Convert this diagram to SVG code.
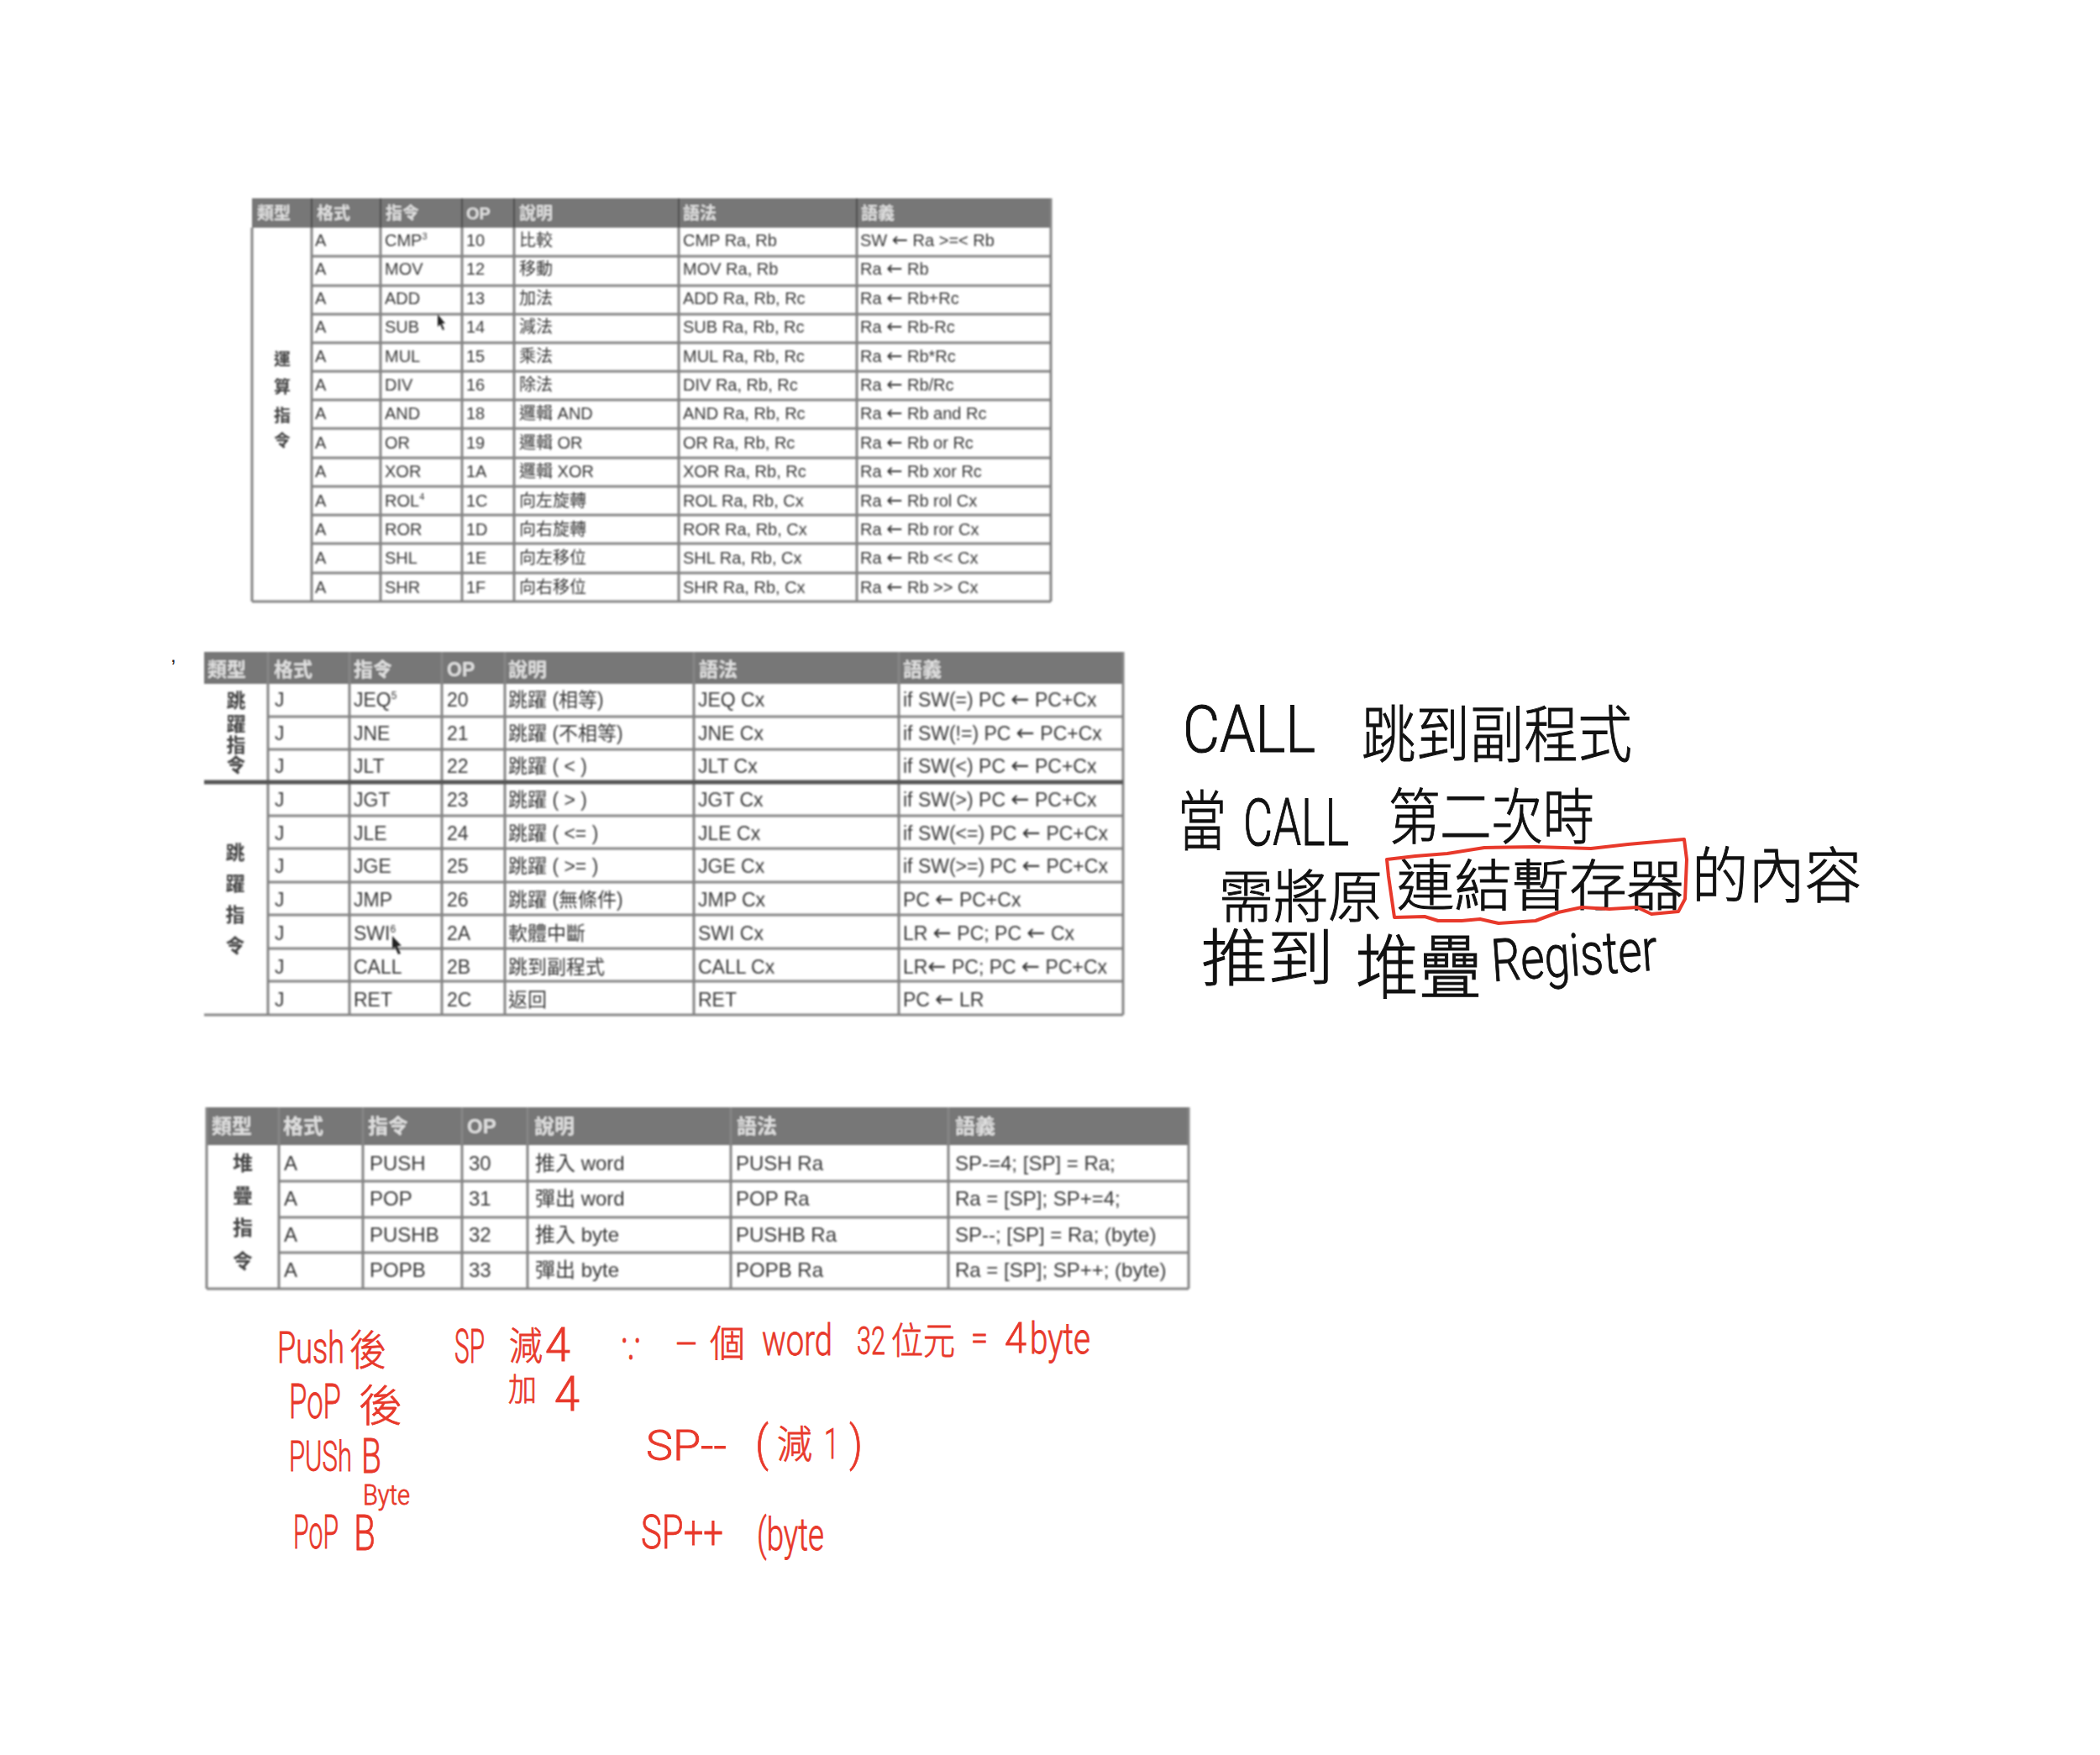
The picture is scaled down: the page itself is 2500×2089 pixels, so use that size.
<svg xmlns="http://www.w3.org/2000/svg" width="2500" height="2089" viewBox="0 0 2500 2089">
<defs>
<filter id="soft" x="-2%" y="-2%" width="104%" height="104%"><feGaussianBlur stdDeviation="0.85"/></filter>
</defs>
<style>
text{font-family:"Liberation Sans","Noto Sans CJK TC",sans-serif}
.tb{filter:url(#soft)}
.c{fill:#383838}
.h{fill:#e0e0e0;font-weight:700}
.hb{fill:#777}
.g{stroke:#858585;stroke-width:3;fill:none}
.d{stroke:#4f4f4f;stroke-width:2.5;fill:none}
.t1 text{font-size:20px}
.t2 text{font-size:23px}
.t3 text{font-size:24px}
.a{font-family:"DejaVu Sans",sans-serif;font-size:1.15em}
.v{text-anchor:middle;font-weight:700;fill:#444}
.hw{fill:#111;stroke:#111;stroke-width:1;font-family:"Noto Sans CJK TC",sans-serif;font-weight:300}
.la{font-family:Roboto,"Liberation Sans",sans-serif;font-weight:300}
.rd{fill:#e8392b;stroke:#e8392b;stroke-width:.8;font-family:"Noto Sans CJK TC",sans-serif;font-weight:300}
</style>
<rect width="2500" height="2089" fill="#fff"/>

<g id="table-arith" class="tb t1">
<rect class="hb" x="300" y="236" width="951" height="35"/>
<path class="g" d="M371 305H1251M371 340H1251M371 374H1251M371 408H1251M371 442H1251M371 476H1251M371 510H1251M371 545H1251M371 579H1251M371 613H1251M371 647H1251M371 682H1251"/>
<path class="g" d="M300 716H1251M300 271V716M371 236V716M453 236V716M550 236V716M612 236V716M808 236V716M1020 236V716M1251 236V716"/>
<path class="d" d="M371 236V271M453 236V271M550 236V271M612 236V271M808 236V271M1020 236V271"/>
<g class="h"><text x="306" y="261">類型</text><text x="377" y="261">格式</text><text x="459" y="261">指令</text><text x="555" y="261">OP</text><text x="618" y="261">說明</text><text x="813" y="261">語法</text><text x="1025" y="261">語義</text></g>
<g class="c">
<text x="375" y="293">A</text><text x="458" y="293">CMP<tspan font-size="11" dy="-8">3</tspan></text><text x="555" y="293">10</text><text x="618" y="293">比較</text><text x="813" y="293">CMP Ra, Rb</text><text x="1024" y="293">SW <tspan class="a">←</tspan> Ra &gt;=&lt; Rb</text>
<text x="375" y="327">A</text><text x="458" y="327">MOV</text><text x="555" y="327">12</text><text x="618" y="327">移動</text><text x="813" y="327">MOV Ra, Rb</text><text x="1024" y="327">Ra <tspan class="a">←</tspan> Rb</text>
<text x="375" y="362">A</text><text x="458" y="362">ADD</text><text x="555" y="362">13</text><text x="618" y="362">加法</text><text x="813" y="362">ADD Ra, Rb, Rc</text><text x="1024" y="362">Ra <tspan class="a">←</tspan> Rb+Rc</text>
<text x="375" y="396">A</text><text x="458" y="396">SUB</text><text x="555" y="396">14</text><text x="618" y="396">減法</text><text x="813" y="396">SUB Ra, Rb, Rc</text><text x="1024" y="396">Ra <tspan class="a">←</tspan> Rb-Rc</text>
<text x="375" y="431">A</text><text x="458" y="431">MUL</text><text x="555" y="431">15</text><text x="618" y="431">乘法</text><text x="813" y="431">MUL Ra, Rb, Rc</text><text x="1024" y="431">Ra <tspan class="a">←</tspan> Rb*Rc</text>
<text x="375" y="465">A</text><text x="458" y="465">DIV</text><text x="555" y="465">16</text><text x="618" y="465">除法</text><text x="813" y="465">DIV Ra, Rb, Rc</text><text x="1024" y="465">Ra <tspan class="a">←</tspan> Rb/Rc</text>
<text x="375" y="499">A</text><text x="458" y="499">AND</text><text x="555" y="499">18</text><text x="618" y="499">邏輯 AND</text><text x="813" y="499">AND Ra, Rb, Rc</text><text x="1024" y="499">Ra <tspan class="a">←</tspan> Rb and Rc</text>
<text x="375" y="534">A</text><text x="458" y="534">OR</text><text x="555" y="534">19</text><text x="618" y="534">邏輯 OR</text><text x="813" y="534">OR Ra, Rb, Rc</text><text x="1024" y="534">Ra <tspan class="a">←</tspan> Rb or Rc</text>
<text x="375" y="568">A</text><text x="458" y="568">XOR</text><text x="555" y="568">1A</text><text x="618" y="568">邏輯 XOR</text><text x="813" y="568">XOR Ra, Rb, Rc</text><text x="1024" y="568">Ra <tspan class="a">←</tspan> Rb xor Rc</text>
<text x="375" y="603">A</text><text x="458" y="603">ROL<tspan font-size="11" dy="-8">4</tspan></text><text x="555" y="603">1C</text><text x="618" y="603">向左旋轉</text><text x="813" y="603">ROL Ra, Rb, Cx</text><text x="1024" y="603">Ra <tspan class="a">←</tspan> Rb rol Cx</text>
<text x="375" y="637">A</text><text x="458" y="637">ROR</text><text x="555" y="637">1D</text><text x="618" y="637">向右旋轉</text><text x="813" y="637">ROR Ra, Rb, Cx</text><text x="1024" y="637">Ra <tspan class="a">←</tspan> Rb ror Cx</text>
<text x="375" y="671">A</text><text x="458" y="671">SHL</text><text x="555" y="671">1E</text><text x="618" y="671">向左移位</text><text x="813" y="671">SHL Ra, Rb, Cx</text><text x="1024" y="671">Ra <tspan class="a">←</tspan> Rb &lt;&lt; Cx</text>
<text x="375" y="706">A</text><text x="458" y="706">SHR</text><text x="555" y="706">1F</text><text x="618" y="706">向右移位</text><text x="813" y="706">SHR Ra, Rb, Cx</text><text x="1024" y="706">Ra <tspan class="a">←</tspan> Rb &gt;&gt; Cx</text>
</g>
<g class="v"><text x="336" y="435">運</text><text x="336" y="468">算</text><text x="336" y="502">指</text><text x="336" y="532">令</text></g>
<path fill="#222" d="M521 374l0 15 3-3 3 7 2-1-3-7 4 0z"/>
</g>

<text x="203" y="788" font-size="24" fill="#222">,</text>

<g id="table-jump" class="tb t2">
<rect class="hb" x="243" y="776" width="1094" height="38"/>
<path class="g" d="M319 853H1337M319 892H1337M319 971H1337M319 1010H1337M319 1050H1337M319 1089H1337M319 1129H1337M319 1168H1337M243 1208H1337"/>
<path class="g" d="M319 776V1208M416 776V1208M526 776V1208M601 776V1208M826 776V1208M1070 776V1208M1337 776V1208"/>
<path stroke="#555" stroke-width="5" d="M243 931H1337"/>
<g class="h"><text x="247" y="805">類型</text><text x="326" y="805">格式</text><text x="421" y="805">指令</text><text x="532" y="805">OP</text><text x="605" y="805">說明</text><text x="832" y="805">語法</text><text x="1075" y="805">語義</text></g>
<g class="c">
<text x="327" y="841">J</text><text x="421" y="841">JEQ<tspan font-size="12" dy="-9">5</tspan></text><text x="532" y="841">20</text><text x="605" y="841">跳躍 (相等)</text><text x="831" y="841">JEQ Cx</text><text x="1075" y="841">if SW(=) PC <tspan class="a">←</tspan> PC+Cx</text>
<text x="327" y="881">J</text><text x="421" y="881">JNE</text><text x="532" y="881">21</text><text x="605" y="881">跳躍 (不相等)</text><text x="831" y="881">JNE Cx</text><text x="1075" y="881">if SW(!=) PC <tspan class="a">←</tspan> PC+Cx</text>
<text x="327" y="920">J</text><text x="421" y="920">JLT</text><text x="532" y="920">22</text><text x="605" y="920">跳躍 ( &lt; )</text><text x="831" y="920">JLT Cx</text><text x="1075" y="920">if SW(&lt;) PC <tspan class="a">←</tspan> PC+Cx</text>
<text x="327" y="960">J</text><text x="421" y="960">JGT</text><text x="532" y="960">23</text><text x="605" y="960">跳躍 ( &gt; )</text><text x="831" y="960">JGT Cx</text><text x="1075" y="960">if SW(&gt;) PC <tspan class="a">←</tspan> PC+Cx</text>
<text x="327" y="1000">J</text><text x="421" y="1000">JLE</text><text x="532" y="1000">24</text><text x="605" y="1000">跳躍 ( &lt;= )</text><text x="831" y="1000">JLE Cx</text><text x="1075" y="1000">if SW(&lt;=) PC <tspan class="a">←</tspan> PC+Cx</text>
<text x="327" y="1039">J</text><text x="421" y="1039">JGE</text><text x="532" y="1039">25</text><text x="605" y="1039">跳躍 ( &gt;= )</text><text x="831" y="1039">JGE Cx</text><text x="1075" y="1039">if SW(&gt;=) PC <tspan class="a">←</tspan> PC+Cx</text>
<text x="327" y="1079">J</text><text x="421" y="1079">JMP</text><text x="532" y="1079">26</text><text x="605" y="1079">跳躍 (無條件)</text><text x="831" y="1079">JMP Cx</text><text x="1075" y="1079">PC <tspan class="a">←</tspan> PC+Cx</text>
<text x="327" y="1119">J</text><text x="421" y="1119">SWI<tspan font-size="12" dy="-9">6</tspan></text><text x="532" y="1119">2A</text><text x="605" y="1119">軟體中斷</text><text x="831" y="1119">SWI Cx</text><text x="1075" y="1119">LR <tspan class="a">←</tspan> PC; PC <tspan class="a">←</tspan> Cx</text>
<text x="327" y="1159">J</text><text x="421" y="1159">CALL</text><text x="532" y="1159">2B</text><text x="605" y="1159">跳到副程式</text><text x="831" y="1159">CALL Cx</text><text x="1075" y="1159">LR<tspan class="a">←</tspan> PC; PC <tspan class="a">←</tspan> PC+Cx</text>
<text x="327" y="1198">J</text><text x="421" y="1198">RET</text><text x="532" y="1198">2C</text><text x="605" y="1198">返回</text><text x="831" y="1198">RET</text><text x="1075" y="1198">PC <tspan class="a">←</tspan> LR</text>
</g>
<g class="v"><text x="281" y="842">跳</text><text x="281" y="870">躍</text><text x="281" y="895">指</text><text x="281" y="919">令</text>
<text x="280" y="1023">跳</text><text x="280" y="1060">躍</text><text x="280" y="1097">指</text><text x="280" y="1134">令</text></g>
<path fill="#222" d="M467 1114l0 16 3-3 4 9 3-1-4-9 5 0z"/>
</g>

<g id="table-stack" class="tb t3">
<rect class="hb" x="246" y="1318" width="1169" height="45"/>
<path class="g" d="M332 1406H1415M332 1449H1415M332 1491H1415M246 1534H1415"/>
<path class="g" d="M246 1318V1534M332 1318V1534M432 1318V1534M550 1318V1534M628 1318V1534M870 1318V1534M1129 1318V1534M1415 1318V1534"/>
<g class="h"><text x="252" y="1349">類型</text><text x="337" y="1349">格式</text><text x="438" y="1349">指令</text><text x="556" y="1349">OP</text><text x="636" y="1349">說明</text><text x="877" y="1349">語法</text><text x="1137" y="1349">語義</text></g>
<g class="c">
<text x="338" y="1393">A</text><text x="440" y="1393">PUSH</text><text x="558" y="1393">30</text><text x="637" y="1393">推入 word</text><text x="876" y="1393">PUSH Ra</text><text x="1137" y="1393">SP-=4; [SP] = Ra;</text>
<text x="338" y="1435">A</text><text x="440" y="1435">POP</text><text x="558" y="1435">31</text><text x="637" y="1435">彈出 word</text><text x="876" y="1435">POP Ra</text><text x="1137" y="1435">Ra = [SP]; SP+=4;</text>
<text x="338" y="1478">A</text><text x="440" y="1478">PUSHB</text><text x="558" y="1478">32</text><text x="637" y="1478">推入 byte</text><text x="876" y="1478">PUSHB Ra</text><text x="1137" y="1478">SP--; [SP] = Ra; (byte)</text>
<text x="338" y="1520">A</text><text x="440" y="1520">POPB</text><text x="558" y="1520">33</text><text x="637" y="1520">彈出 byte</text><text x="876" y="1520">POPB Ra</text><text x="1137" y="1520">Ra = [SP]; SP++; (byte)</text>
</g>
<g class="v"><text x="289" y="1393">堆</text><text x="289" y="1432">疊</text><text x="289" y="1470">指</text><text x="289" y="1510">令</text></g>
</g>

<g id="notes-black" class="hw">
<text class="la" x="1408" y="895" font-size="78" textLength="158" lengthAdjust="spacingAndGlyphs">CALL</text>
<text x="1621" y="901" font-size="74" textLength="322" lengthAdjust="spacingAndGlyphs">跳到副程式</text>
<text x="1402" y="1006" font-size="78" textLength="58" lengthAdjust="spacingAndGlyphs">當</text>
<text class="la" x="1480" y="1006" font-size="78" textLength="126" lengthAdjust="spacingAndGlyphs">CALL</text>
<text x="1653" y="998" font-size="72" textLength="245" lengthAdjust="spacingAndGlyphs">第二次時</text>
<text x="1451" y="1092" font-size="68" textLength="195" lengthAdjust="spacingAndGlyphs">需將原</text>
<text x="1663" y="1078" font-size="66" textLength="342" lengthAdjust="spacingAndGlyphs">連結暫存器</text>
<text x="2014" y="1068" font-size="72" textLength="202" lengthAdjust="spacingAndGlyphs">的內容</text>
<text x="1430" y="1167" font-size="74" textLength="158" lengthAdjust="spacingAndGlyphs">推到</text>
<text x="1614" y="1182" font-size="84" textLength="150" lengthAdjust="spacingAndGlyphs">堆疊</text>
<text class="la" transform="rotate(-4 1777 1168)" x="1777" y="1168" font-size="70" textLength="198" lengthAdjust="spacingAndGlyphs">Register</text>
</g>
<path id="highlight" fill="none" stroke="#e8392b" stroke-width="4" stroke-linejoin="round" d="M1651 1023L1685 1019 1723 1016 1767 1009 1828 1008 1894 1010 1938 1005 2005 999 2008 1023 2006 1070 1998 1085 1966 1088 1949 1080 1916 1082 1883 1080 1855 1086 1828 1096 1784 1099 1762 1094 1740 1096 1712 1096 1696 1091 1660 1092 1653 1043Z"/>

<g id="notes-red" class="rd">
<text class="la" x="330" y="1622" font-size="52" textLength="80" lengthAdjust="spacingAndGlyphs">Push</text>
<text x="416" y="1625" font-size="50" textLength="44" lengthAdjust="spacingAndGlyphs">後</text>
<text class="la" x="541" y="1622" font-size="56" textLength="36" lengthAdjust="spacingAndGlyphs">SP</text>
<text x="606" y="1618" font-size="46" textLength="40" lengthAdjust="spacingAndGlyphs">減</text>
<text class="la" x="649" y="1620" font-size="56" textLength="30" lengthAdjust="spacingAndGlyphs">4</text>
<text x="737" y="1620" font-size="40" textLength="28" lengthAdjust="spacingAndGlyphs">∵</text>
<text x="805" y="1614" font-size="40" textLength="24" lengthAdjust="spacingAndGlyphs">一</text>
<text x="845" y="1615" font-size="44" textLength="42" lengthAdjust="spacingAndGlyphs">個</text>
<text class="la" x="907" y="1613" font-size="52" textLength="84" lengthAdjust="spacingAndGlyphs">word</text>
<text class="la" x="1020" y="1612" font-size="46" textLength="34" lengthAdjust="spacingAndGlyphs">32</text>
<text x="1061" y="1612" font-size="44" textLength="76" lengthAdjust="spacingAndGlyphs">位元</text>
<text class="la" x="1156" y="1606" font-size="38" textLength="20" lengthAdjust="spacingAndGlyphs">=</text>
<text class="la" x="1196" y="1610" font-size="50" textLength="26" lengthAdjust="spacingAndGlyphs">4</text>
<text class="la" x="1226" y="1611" font-size="52" textLength="72" lengthAdjust="spacingAndGlyphs">byte</text>
<text x="605" y="1667" font-size="38" textLength="34" lengthAdjust="spacingAndGlyphs">加</text>
<text class="la" x="660" y="1679" font-size="58" textLength="30" lengthAdjust="spacingAndGlyphs">4</text>
<text class="la" x="344" y="1688" font-size="58" textLength="62" lengthAdjust="spacingAndGlyphs">PoP</text>
<text x="427" y="1692" font-size="52" textLength="52" lengthAdjust="spacingAndGlyphs">後</text>
<text class="la" x="344" y="1751" font-size="50" textLength="75" lengthAdjust="spacingAndGlyphs">PUSh</text>
<text class="la" x="430" y="1753" font-size="58" textLength="24" lengthAdjust="spacingAndGlyphs">B</text>
<text class="la" x="432" y="1791" font-size="34" textLength="56" lengthAdjust="spacingAndGlyphs">Byte</text>
<text class="la" x="349" y="1843" font-size="56" textLength="54" lengthAdjust="spacingAndGlyphs">PoP</text>
<text class="la" x="421" y="1845" font-size="60" textLength="26" lengthAdjust="spacingAndGlyphs">B</text>
<text class="la" x="769" y="1738" font-size="50" textLength="96" lengthAdjust="spacingAndGlyphs">SP--</text>
<text class="la" x="899" y="1738" font-size="58" textLength="16" lengthAdjust="spacingAndGlyphs">(</text>
<text x="925" y="1735" font-size="46" textLength="42" lengthAdjust="spacingAndGlyphs">減</text>
<text class="la" x="981" y="1736" font-size="50" textLength="18" lengthAdjust="spacingAndGlyphs">1</text>
<text class="la" x="1011" y="1738" font-size="58" textLength="16" lengthAdjust="spacingAndGlyphs">)</text>
<text class="la" x="763" y="1843" font-size="56" textLength="98" lengthAdjust="spacingAndGlyphs">SP++</text>
<text class="la" x="901" y="1845" font-size="54" textLength="80" lengthAdjust="spacingAndGlyphs">(byte</text>
</g>
</svg>
